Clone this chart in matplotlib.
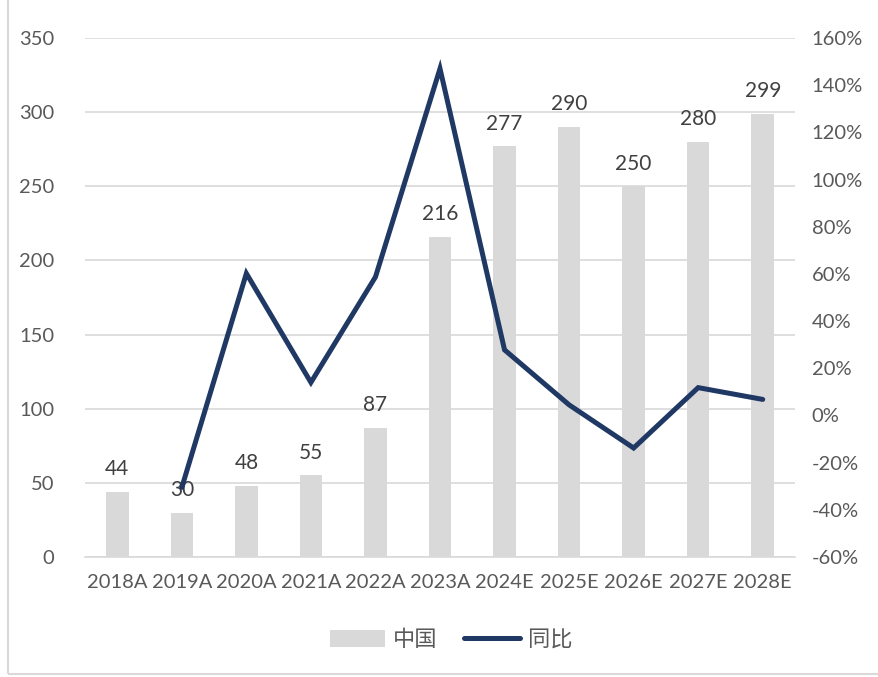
import numpy as np
import matplotlib.pyplot as plt
from matplotlib.patches import Rectangle
from matplotlib.ticker import FuncFormatter

years = ['2018A', '2019A', '2020A', '2021A', '2022A', '2023A',
         '2024E', '2025E', '2026E', '2027E', '2028E']
china = [44, 30, 48, 55, 87, 216, 277, 290, 250, 280, 299]
# YoY growth (%)
yoy_years = years[1:]
yoy = [-30.5, 60.2, 14.0, 58.7, 147.0, 27.8, 4.5, -13.8, 11.8, 6.8]

plt.rcParams['font.family'] = ['Lato', 'Noto Sans CJK SC', 'DejaVu Sans']
TXT = '#595959'

fig = plt.figure(figsize=(8.79, 6.77), dpi=100)
ax = fig.add_axes([85 / 879, 1 - 557 / 677, (795 - 85) / 879, (557 - 38) / 677])
x = np.arange(len(years))

bars = ax.bar(x, china, width=0.35, color='#d9d9d9', label='中国', zorder=2)
for xi, v in zip(x, china):
    ax.annotate(str(v), (xi, v), xytext=(0, 9), textcoords='offset points',
                ha='center', va='bottom', fontsize=15, color='#404040')

ax.set_ylim(0, 350)
ax.set_yticks(range(0, 351, 50))
ax.set_xlim(-0.5, len(years) - 0.5)
ax.set_xticks(x)
ax.set_xticklabels(years)
ax.grid(axis='y', color='#d9d9d9', linewidth=1.2, zorder=0)
ax.set_axisbelow(True)
for s in ['top', 'left', 'right']:
    ax.spines[s].set_visible(False)
ax.spines['bottom'].set_color('#d9d9d9')
ax.spines['bottom'].set_linewidth(1.2)
ax.tick_params(axis='both', length=0, labelsize=14.5, labelcolor=TXT)
ax.tick_params(axis='y', pad=22)
ax.tick_params(axis='x', pad=12)

ax2 = ax.twinx()
yx = [years.index(y) for y in yoy_years]
line, = ax2.plot(yx, yoy, color='#1f3864', linewidth=3.6, label='同比',
                 solid_capstyle='round', solid_joinstyle='miter', zorder=3)
ax2.set_ylim(-60, 160)
ax2.set_yticks(range(-60, 161, 20))
ax2.yaxis.set_major_formatter(FuncFormatter(lambda v, p: f'{v:.0f}%'))
for s in ['top', 'left', 'right', 'bottom']:
    ax2.spines[s].set_visible(False)
ax2.tick_params(axis='y', length=0, labelsize=14.5, labelcolor=TXT, pad=12)

leg = fig.legend([bars, line], ['中国', '同比'], loc='center',
                 bbox_to_anchor=(451 / 879, 1 - 640 / 677), ncol=2, frameon=False,
                 prop={'family': ['Noto Sans CJK SC'], 'size': 16},
                 handlelength=2.5, handleheight=0.8, columnspacing=1.2, handletextpad=0.35)
for t in leg.get_texts():
    t.set_color(TXT)

fig.patches.append(Rectangle((8 / 879, 3 / 677), 1.2, 1.2, transform=fig.transFigure,
                             fill=False, edgecolor='#d9d9d9', linewidth=1.5))

fig.savefig('out.png', dpi=100)
